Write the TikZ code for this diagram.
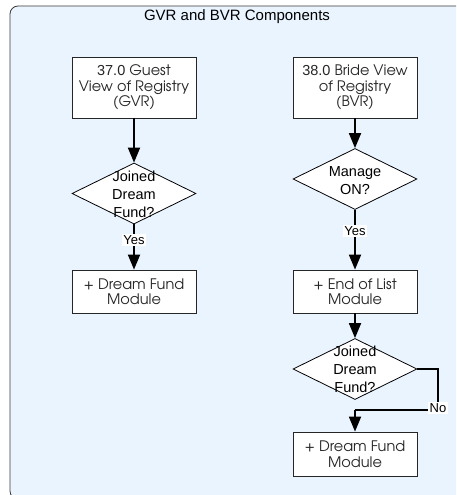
\documentclass[tikz,border=0pt]{standalone}
\usepackage{fontspec}
\setmainfont{Liberation Sans}
\newfontfamily\cg{TeX Gyre Adventor}
\usetikzlibrary{shapes.geometric,arrows.meta}
\definecolor{bgblue}{HTML}{EAF4FF}
\definecolor{framegray}{HTML}{3A3A3A}
\tikzset{
  procbox/.style={draw=black!85, fill=white, line width=0.8pt, minimum width=124pt, minimum height=61pt, inner sep=0pt, align=center, text=black!85, font=\cg\fontsize{14.5}{15.5}\selectfont},
  decbox/.style={draw=black, fill=white, line width=0.8pt, diamond, minimum width=124pt, minimum height=61pt, inner sep=0pt},
  dectext/.style={align=center, font=\fontsize{14.5}{18}\selectfont, inner sep=0pt},
  flow/.style={line width=1.8pt, -{Triangle[length=15pt,width=12pt]}},
  flowline/.style={line width=1.8pt},
  lbl/.style={fill=white, inner sep=1.5pt, font=\fontsize{13}{14}\selectfont},
}
\begin{document}
\begin{tikzpicture}[x=1pt,y=-1pt]
\useasboundingbox (0,0) rectangle (456,495);
\begin{scope}
\clip (0,0) rectangle (456,495);
\draw[fill=bgblue, draw=framegray, line width=0.8pt, rounded corners=8pt] (10,6) rectangle (470,499);
\end{scope}
\node[font=\fontsize{15}{16}\selectfont] (title) at (237,17) {GVR and BVR Components};
% left column
\node[procbox] (gvr) at (134,87.5) {{\normalfont 37.0} Guest\\View of Registry\\(GVR)};
\node[decbox] (gjoin) at (134,193.5) {};
\node[dectext] (gjointxt) at (134,194) {Joined\\Dream\\Fund?};
\node[procbox, minimum height=43pt] (gdream) at (134,291.5) {+ Dream Fund\\Module};
% right column
\node[procbox] (bvr) at (355,87.5) {{\normalfont 38.0} Bride View\\of Registry\\(BVR)};
\node[decbox] (manage) at (355,179) {};
\node[dectext] (managetxt) at (355,181) {Manage\\ON?};
\node[procbox, minimum height=43pt] (eol) at (355,291.5) {+ End of List\\Module};
\node[decbox] (bjoin) at (355,369) {};
\node[dectext] (bjointxt) at (355,369.5) {Joined\\Dream\\Fund?};
\node[procbox, minimum height=44pt] (bdream) at (355,454) {+ Dream Fund\\Module};
\coordinate (c1) at (438,369);
\coordinate (c2) at (438,410);
\coordinate (c3) at (355,410);
% connectors
\draw[flow] (gvr.south) -- (gjoin.north);
\draw[flow] (gjoin.south) -- node[lbl, pos=0.35] {Yes} (gdream.north);
\draw[flow] (bvr.south) -- (manage.north);
\draw[flow] (manage.south) -- node[lbl, pos=0.35] {Yes} (eol.north);
\draw[flow] (eol.south) -- (bjoin.north);
\draw[flowline] (bjoin.east) -- (c1) -- node[lbl, pos=0.95] (nolbl) {No} (c2) -- (c3);
\draw[flow] (c3) -- (bdream.north);
\end{tikzpicture}
\end{document}
